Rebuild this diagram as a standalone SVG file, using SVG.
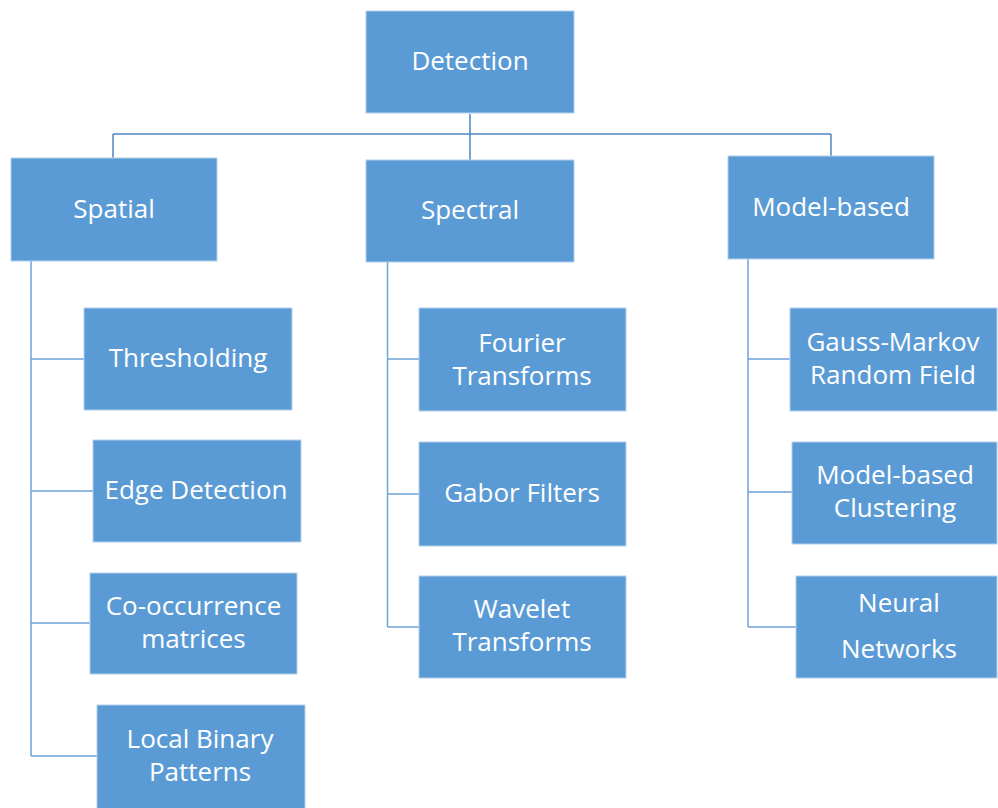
<svg xmlns="http://www.w3.org/2000/svg" width="998" height="808" viewBox="0 0 998 808">
<style>
.box{fill:#5B9BD5;stroke:#B4D0EC;stroke-width:1}
.t{font-family:"Open Sans","Liberation Sans",sans-serif;font-size:26px;fill:#FFFFFF;text-anchor:middle}
.c{fill:none;stroke:#6FA3D8;stroke-width:1.5}
.c2{fill:none;stroke:#4F86BE;stroke-width:1.5}
</style>
<rect width="998" height="808" fill="#FFFFFF"/>
<g id="connectors">
<path class="c2" d="M470 114 V134 M113 134 H831 M113 134 V158 M470 134 V160 M831 134 V156"/>
<path class="c" d="M31 261 V756 M31 359 H84 M31 491 H93 M31 623 H90 M31 756 H97"/>
<path class="c" d="M387.5 262 V627 M387.5 359 H419 M387.5 494 H419 M387.5 627 H419"/>
<path class="c" d="M748 259 V627 M748 359 H790 M748 492 H792 M748 627 H796"/>
</g>
<g id="detection"><rect class="box" x="366" y="11" width="208" height="102"/><text class="t" x="470" y="70">Detection</text></g>
<g id="spatial"><rect class="box" x="11" y="158" width="206" height="103"/><text class="t" x="114" y="218">Spatial</text></g>
<g id="spectral"><rect class="box" x="366" y="160" width="208" height="102"/><text class="t" x="470" y="219">Spectral</text></g>
<g id="model-based"><rect class="box" x="728" y="156" width="206" height="103"/><text class="t" x="831" y="216">Model-based</text></g>
<g id="thresholding"><rect class="box" x="84" y="308" width="208" height="102"/><text class="t" x="188" y="367">Thresholding</text></g>
<g id="edge-detection"><rect class="box" x="93" y="440" width="208" height="102"/><text class="t" x="196" y="499">Edge Detection</text></g>
<g id="co-occurrence"><rect class="box" x="90" y="573" width="207" height="101"/><text class="t" x="193.5" y="615">Co-occurrence</text><text class="t" x="193.5" y="648">matrices</text></g>
<g id="lbp"><rect class="box" x="97" y="705" width="208" height="110"/><text class="t" x="200" y="748">Local Binary</text><text class="t" x="200" y="781">Patterns</text></g>
<g id="fourier"><rect class="box" x="419" y="308" width="207" height="103"/><text class="t" x="522" y="352">Fourier</text><text class="t" x="522" y="385">Transforms</text></g>
<g id="gabor"><rect class="box" x="419" y="442" width="207" height="104"/><text class="t" x="522" y="502">Gabor Filters</text></g>
<g id="wavelet"><rect class="box" x="419" y="576" width="207" height="102"/><text class="t" x="522" y="618">Wavelet</text><text class="t" x="522" y="651">Transforms</text></g>
<g id="gmrf"><rect class="box" x="790" y="308" width="207" height="103"/><text class="t" x="893" y="351">Gauss-Markov</text><text class="t" x="893" y="384">Random Field</text></g>
<g id="mbc"><rect class="box" x="792" y="442" width="205" height="102"/><text class="t" x="895" y="484">Model-based</text><text class="t" x="895" y="517">Clustering</text></g>
<g id="neural"><rect class="box" x="796" y="576" width="201" height="102"/><text class="t" x="899" y="612">Neural</text><text class="t" x="899" y="658">Networks</text></g>
</svg>
